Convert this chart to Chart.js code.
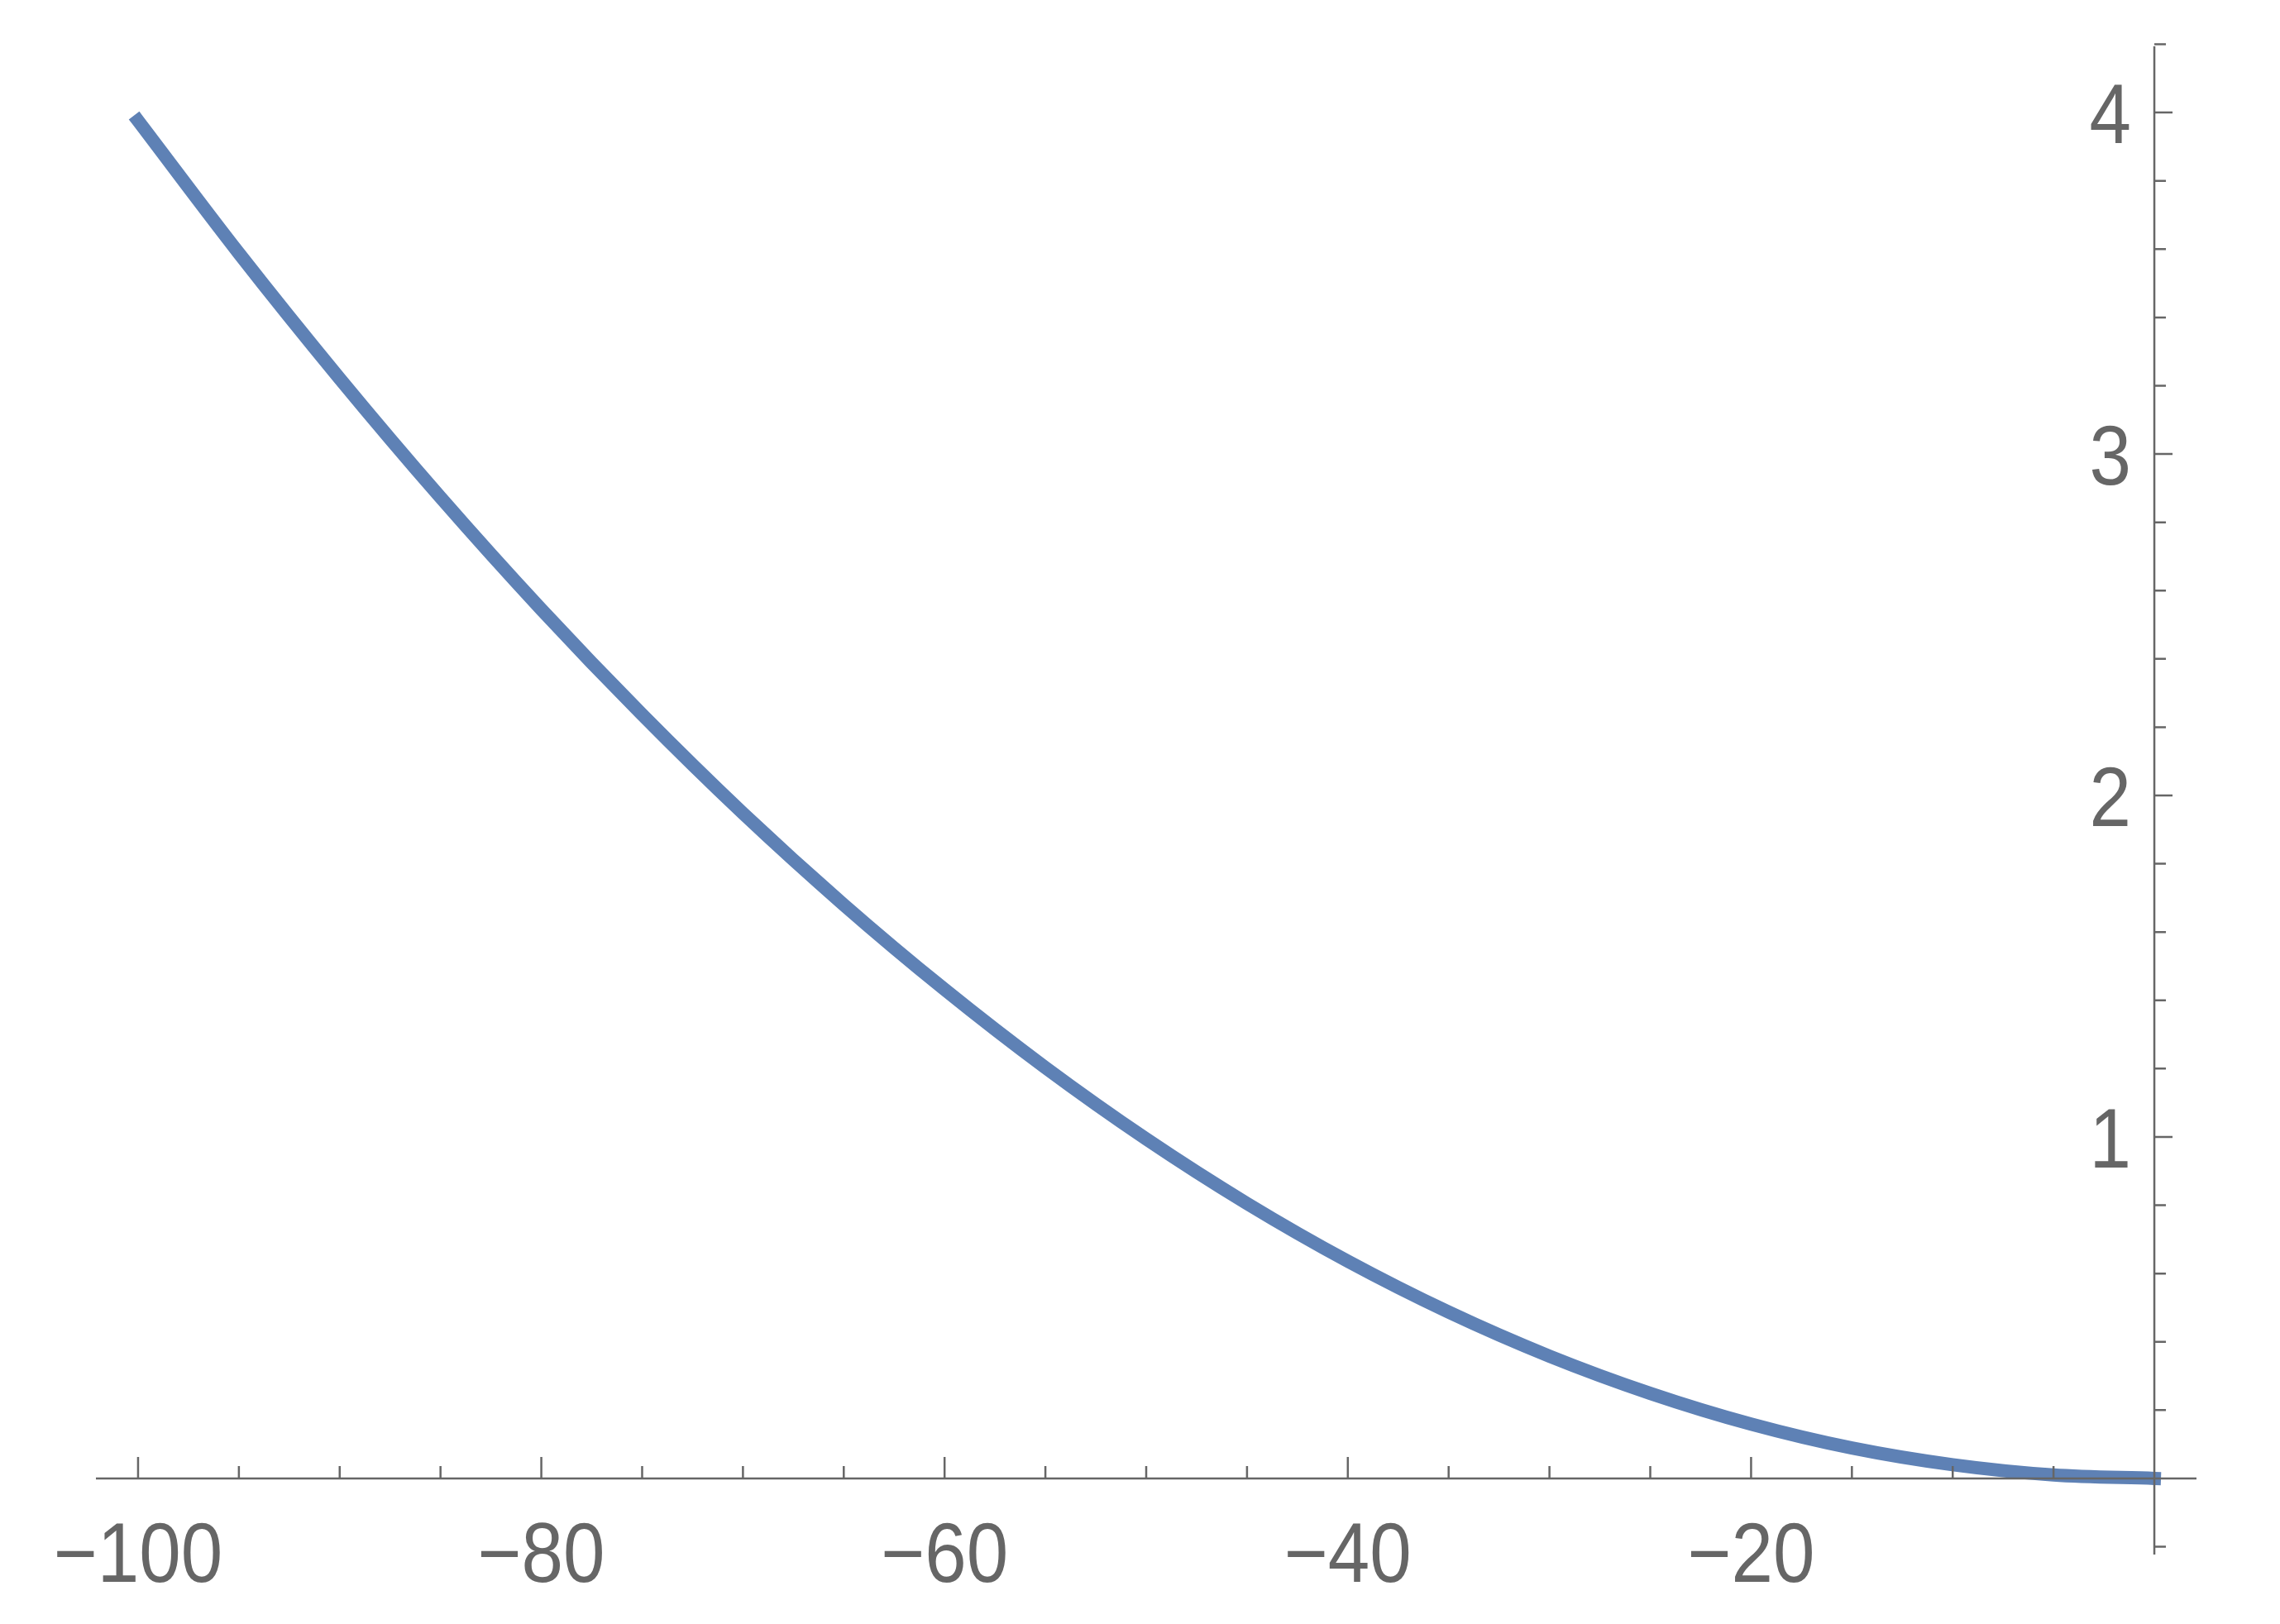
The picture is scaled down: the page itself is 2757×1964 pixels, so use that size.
<!DOCTYPE html>
<html>
<head>
<meta charset="utf-8">
<script src="https://cdn.jsdelivr.net/npm/chart.js@4/dist/chart.umd.min.js"></script>
<style>
  html, body { margin: 0; padding: 0; background: #fff; }
  canvas { display: block; }
</style>
</head>
<body>
<canvas id="plot" width="2757" height="1964"></canvas>
<script>
// values
const xValues = [-100, -95, -90, -85, -80, -75, -70, -65, -60, -55, -50, -45, -40, -35, -30, -25, -20, -15, -10, -5, 0];
const yValues = [3.976, 3.588, 3.221, 2.873, 2.545, 2.237, 1.948, 1.680, 1.432, 1.203, 0.994, 0.805, 0.636, 0.487, 0.358, 0.249, 0.159, 0.089, 0.040, 0.010, 0];

const xTickLabels = [-100, -80, -60, -40, -20];
const yTickLabels = [1, 2, 3, 4];

const axisColor = '#666666';
const labelFont = '102px "Liberation Sans", Arial, sans-serif';

const fmt = v => (v < 0 ? '\u2212' + Math.abs(v) : String(v));

function drawLabel(ctx, text, x, y) {
  ctx.save();
  ctx.translate(x, y);
  ctx.scale(0.89, 1);
  ctx.fillText(text, 0, 0);
  ctx.restore();
}

// Mathematica style axes: x axis at y=0 with ticks pointing up, y axis at x=0 with ticks pointing right
const axesPlugin = {
  id: 'mmaAxes',
  afterDatasetsDraw(chart) {
    const ctx = chart.ctx;
    const xs = chart.scales.x;
    const ys = chart.scales.y;
    const area = chart.chartArea;
    const x0 = xs.getPixelForValue(0);
    const y0 = ys.getPixelForValue(0);

    ctx.save();
    ctx.strokeStyle = axisColor;
    ctx.lineWidth = 2.5;
    ctx.beginPath();
    ctx.moveTo(area.left, y0);
    ctx.lineTo(area.right, y0);
    ctx.moveTo(x0, area.top);
    ctx.lineTo(x0, area.bottom);
    ctx.stroke();

    // x ticks every 5, major every 20
    ctx.beginPath();
    for (let v = -100; v < 0; v += 5) {
      const px = xs.getPixelForValue(v);
      const len = v % 20 === 0 ? 26 : 15;
      ctx.moveTo(px, y0);
      ctx.lineTo(px, y0 - len);
    }
    // y ticks every 0.2, major every 1
    for (let i = -1; i <= 21; i++) {
      if (i === 0) continue;
      const py = ys.getPixelForValue(i / 5);
      const len = i % 5 === 0 ? 22 : 14;
      ctx.moveTo(x0, py);
      ctx.lineTo(x0 + len, py);
    }
    ctx.stroke();

    ctx.fillStyle = axisColor;
    ctx.font = labelFont;
    ctx.textBaseline = 'alphabetic';
    ctx.textAlign = 'center';
    xTickLabels.forEach(v => drawLabel(ctx, fmt(v), xs.getPixelForValue(v), y0 + 125));
    ctx.textAlign = 'right';
    yTickLabels.forEach(v => drawLabel(ctx, fmt(v), x0 - 28, ys.getPixelForValue(v) + 37));
    ctx.restore();
  }
};

new Chart(document.getElementById('plot'), {
  type: 'line',
  data: {
    datasets: [{
      data: xValues.map((x, i) => ({ x: x, y: yValues[i] })),
      borderColor: '#5E81B5',
      borderWidth: 16,
      borderCapStyle: 'square',
      pointRadius: 0,
      fill: false,
      cubicInterpolationMode: 'monotone',
      clip: false
    }]
  },
  options: {
    responsive: false,
    animation: false,
    devicePixelRatio: 1,
    layout: { padding: { left: 116, right: 101, top: 56, bottom: 84 } },
    plugins: { legend: { display: false }, tooltip: { enabled: false } },
    scales: {
      x: { type: 'linear', display: false, min: -102.09, max: 2.09 },
      y: { type: 'linear', display: false, min: -0.223, max: 4.194 }
    }
  },
  plugins: [axesPlugin]
});
</script>
</body>
</html>
